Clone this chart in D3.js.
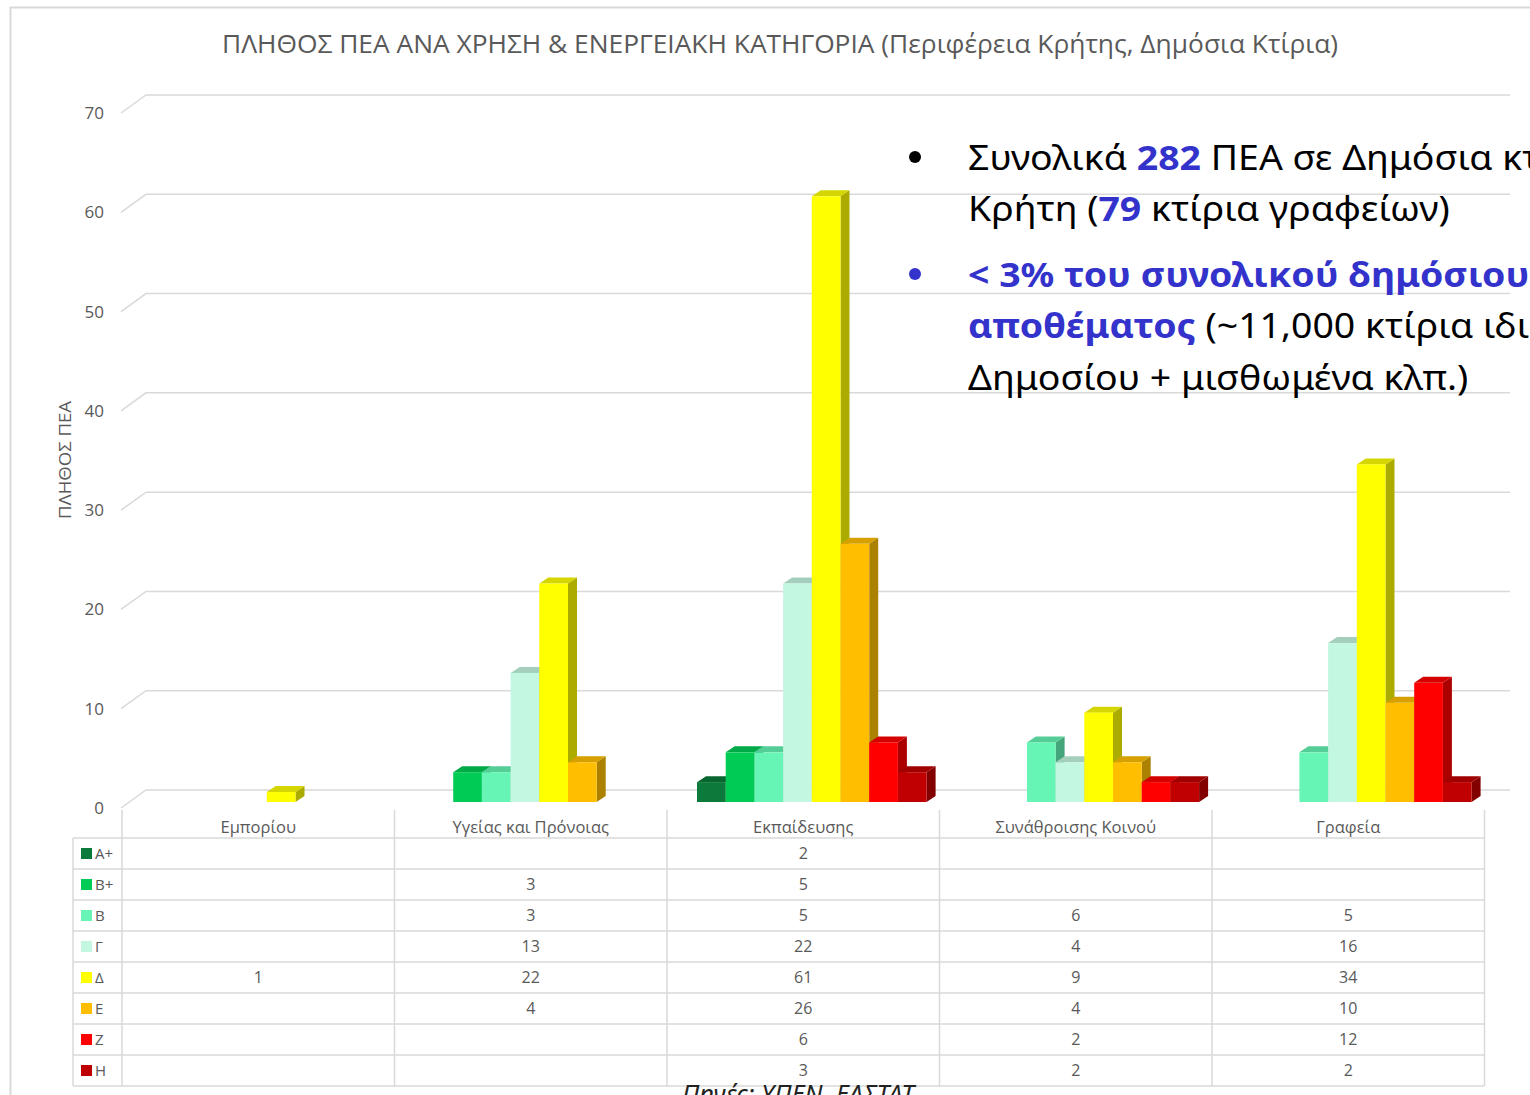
<!DOCTYPE html>
<html>
<head>
<meta charset="utf-8">
<script src="https://cdn.jsdelivr.net/npm/d3@7"></script>
<style>
  body { margin: 0; background: #fff; }
  svg { display: block; }
  .tick-label, .cat-label, .cell, .legend-label { fill: #595959; font-family: "Open Sans", "Noto Sans", sans-serif; }
</style>
</head>
<body>
<svg class="chart"></svg>
<script>
// categories (uses) and energy classes
var categories = ["Εμπορίου", "Υγείας και Πρόνοιας", "Εκπαίδευσης", "Συνάθροισης Κοινού", "Γραφεία"];
var classes = ["Α+", "Β+", "Β", "Γ", "Δ", "Ε", "Ζ", "Η"];
var classColors = ["#0b7a3b", "#00cc55", "#66f5b5", "#c4f7e2", "#ffff00", "#ffbf00", "#ff0000", "#c00000"];

// number of certificates per class, one value per category (null = none)
var valuesAplus = [null, null, 2, null, null];
var valuesBplus = [null, 3, 5, null, null];
var valuesB     = [null, 3, 5, 6, 5];
var valuesG     = [null, 13, 22, 4, 16];
var valuesD     = [1, 22, 61, 9, 34];
var valuesE     = [null, 4, 26, 4, 10];
var valuesZ     = [null, null, 6, 2, 12];
var valuesH     = [null, null, 3, 2, 2];
var seriesValues = [valuesAplus, valuesBplus, valuesB, valuesG, valuesD, valuesE, valuesZ, valuesH];

var yTicks = [0, 10, 20, 30, 40, 50, 60, 70];

var svgWidth = 1530, svgHeight = 1095;
var svg = d3.select(".chart")
    .attr("width", svgWidth)
    .attr("height", svgHeight);

// chart frame
svg.append("rect")
    .attr("x", 10.5).attr("y", 7.5)
    .attr("width", 1560).attr("height", 1120)
    .attr("fill", "none")
    .attr("stroke", "#d9d9d9")
    .attr("stroke-width", 2);

// title
svg.append("text")
    .attr("x", 222)
    .attr("y", 53)
    .attr("textLength", 1116)
    .attr("lengthAdjust", "spacingAndGlyphs")
    .attr("font-family", "'Open Sans', 'Noto Sans', sans-serif")
    .attr("font-size", "25px")
    .attr("fill", "#595959")
    .text("ΠΛΗΘΟΣ ΠΕΑ ΑΝΑ ΧΡΗΣΗ & ΕΝΕΡΓΕΙΑΚΗ ΚΑΤΗΓΟΡΙΑ (Περιφέρεια Κρήτης, Δημόσια Κτίρια)");

// scales
var x = d3.scaleBand()
    .domain(categories)
    .range([122, 1484.5]);

var xInner = d3.scaleBand()
    .domain(classes)
    .range([30, 30 + 8 * 28.7]);

var depthX = 25, depthY = 18;         // floor depth of the 3D box
var barDx = 9, barDy = 6;              // depth of a single column

var yBack = d3.scaleLinear().domain([0, 70]).range([790, 95]);
var yBar = d3.scaleLinear().domain([0, 70]).range([802, 802 - 70 * 9.93]);

// gridlines (diagonal on the side wall + back wall line)
svg.append("g").selectAll("path")
    .data(yTicks)
    .enter()
    .append("path")
    .attr("d", function(d) {
        return "M" + (146 - depthX) + "," + (yBack(d) + depthY) + "L146," + yBack(d) + "H1510";
    })
    .attr("fill", "none")
    .attr("stroke", "#d9d9d9")
    .attr("stroke-width", 1.5);

// y tick labels
svg.append("g").selectAll("text")
    .data(yTicks)
    .enter()
    .append("text")
    .attr("class", "tick-label")
    .attr("x", 104)
    .attr("y", function(d) { return yBack(d) + depthY; })
    .attr("dy", "0.35em")
    .attr("text-anchor", "end")
    .attr("font-size", "17px")
    .text(function(d) { return d; });

// y axis title
svg.append("text")
    .attr("transform", "translate(71,460) rotate(-90)")
    .attr("text-anchor", "middle")
    .attr("textLength", 118)
    .attr("lengthAdjust", "spacingAndGlyphs")
    .attr("font-family", "'Open Sans', 'Noto Sans', sans-serif")
    .attr("font-size", "17px")
    .attr("fill", "#595959")
    .text("ΠΛΗΘΟΣ ΠΕΑ");

// bars, drawn category by category, left to right
var bars = [];
categories.forEach(function(cat, ci) {
    classes.forEach(function(cls, si) {
        var v = seriesValues[si][ci];
        if (v) bars.push({cat: cat, cls: cls, value: v, color: classColors[si]});
    });
});

var barG = svg.append("g").selectAll("g")
    .data(bars)
    .enter()
    .append("g");

barG.each(function(d) {
    var g = d3.select(this);
    var x0 = x(d.cat) + xInner(d.cls);
    var w = xInner.bandwidth();
    var y0 = yBar(0), y1 = yBar(d.value);
    var c = d3.color(d.color);
    // side face
    g.append("path")
        .attr("d", "M" + (x0 + w) + "," + y0 + "L" + (x0 + w + barDx) + "," + (y0 - barDy) +
                   "L" + (x0 + w + barDx) + "," + (y1 - barDy) + "L" + (x0 + w) + "," + y1 + "Z")
        .attr("fill", c.darker(1.1));
    // top face
    g.append("path")
        .attr("d", "M" + x0 + "," + y1 + "L" + (x0 + barDx) + "," + (y1 - barDy) +
                   "L" + (x0 + w + barDx) + "," + (y1 - barDy) + "L" + (x0 + w) + "," + y1 + "Z")
        .attr("fill", c.darker(0.5));
    // front face
    g.append("rect")
        .attr("x", x0)
        .attr("y", y1)
        .attr("width", w)
        .attr("height", y0 - y1)
        .attr("fill", d.color);
});

// data table under the chart
var rowTop = 838, rowH = 31;
var table = svg.append("g");

// horizontal lines
table.selectAll("line.h")
    .data(d3.range(classes.length + 1))
    .enter()
    .append("line")
    .attr("class", "h")
    .attr("x1", 73).attr("x2", 1484.5)
    .attr("y1", function(i) { return rowTop + i * rowH; })
    .attr("y2", function(i) { return rowTop + i * rowH; })
    .attr("stroke", "#d9d9d9")
    .attr("stroke-width", 1.5);

// vertical lines
var colEdges = categories.map(function(c) { return x(c); }).concat([x.range()[1]]);
table.selectAll("line.v")
    .data(colEdges)
    .enter()
    .append("line")
    .attr("class", "v")
    .attr("x1", function(d) { return d; })
    .attr("x2", function(d) { return d; })
    .attr("y1", 810)
    .attr("y2", rowTop + classes.length * rowH)
    .attr("stroke", "#d9d9d9")
    .attr("stroke-width", 1.5);

table.append("line")
    .attr("x1", 73).attr("x2", 73)
    .attr("y1", rowTop).attr("y2", rowTop + classes.length * rowH)
    .attr("stroke", "#d9d9d9")
    .attr("stroke-width", 1.5);

// category labels
table.selectAll("text.cat-label")
    .data(categories)
    .enter()
    .append("text")
    .attr("class", "cat-label")
    .attr("x", function(d) { return x(d) + x.bandwidth() / 2; })
    .attr("y", 827)
    .attr("dy", "0.35em")
    .attr("text-anchor", "middle")
    .attr("font-size", "16.5px")
    .text(function(d) { return d; });

// legend keys
var legendRow = table.selectAll("g.legend")
    .data(classes)
    .enter()
    .append("g")
    .attr("class", "legend")
    .attr("transform", function(d, i) { return "translate(0," + (rowTop + i * rowH + rowH / 2) + ")"; });

legendRow.append("rect")
    .attr("x", 81).attr("y", -5.5)
    .attr("width", 11).attr("height", 11)
    .attr("fill", function(d, i) { return classColors[i]; });

legendRow.append("text")
    .attr("class", "legend-label")
    .attr("x", 95)
    .attr("dy", "0.35em")
    .attr("font-size", "15px")
    .text(function(d) { return d; });

// cell values
seriesValues.forEach(function(vals, si) {
    table.append("g").selectAll("text")
        .data(vals.map(function(v, ci) { return {v: v, cat: categories[ci]}; }).filter(function(d) { return d.v; }))
        .enter()
        .append("text")
        .attr("class", "cell")
        .attr("x", function(d) { return x(d.cat) + x.bandwidth() / 2; })
        .attr("y", rowTop + si * rowH + rowH / 2)
        .attr("dy", "0.35em")
        .attr("text-anchor", "middle")
        .attr("font-size", "16px")
        .text(function(d) { return d.v; });
});

// source note (cut by the bottom edge)
svg.append("text")
    .attr("x", 682)
    .attr("y", 1103)
    .attr("textLength", 232)
    .attr("lengthAdjust", "spacingAndGlyphs")
    .attr("font-family", "'Noto Sans', sans-serif")
    .attr("font-style", "italic")
    .attr("font-size", "26px")
    .attr("fill", "#222")
    .text("Πηγές: ΥΠΕΝ, ΕΛΣΤΑΤ");

// overlaid bullet notes
var blue = "#3333cc";
var notes = svg.append("g")
    .attr("font-family", "'Noto Sans', sans-serif")
    .attr("font-size", "34px");

var lines = [
    {y: 170, parts: [["Συνολικά ", "#000", 400], ["282", blue, 700], [" ΠΕΑ σε Δημόσια κτίρια στην", "#000", 400]]},
    {y: 221, parts: [["Κρήτη (", "#000", 400], ["79", blue, 700], [" κτίρια γραφείων)", "#000", 400]]},
    {y: 287, parts: [["< 3% του συνολικού δημόσιου κτιριακού", blue, 700]]},
    {y: 338, parts: [["αποθέματος", blue, 700], [" (~11,000 κτίρια ιδιοκτησίας", "#000", 400]]},
    {y: 390, parts: [["Δημοσίου + μισθωμένα κλπ.)", "#000", 400]]}
];

var textBlock = notes.append("g");
var lineNodes = lines.map(function(l) {
    var t = textBlock.append("text").attr("x", 0).attr("y", l.y);
    l.parts.forEach(function(p) {
        t.append("tspan").attr("fill", p[1]).attr("font-weight", p[2]).text(p[0]);
    });
    return t;
});
// squeeze horizontally so the line "Κρήτη (79 κτίρια γραφείων)" spans as in the slide
var ratio = 482 / lineNodes[1].node().getComputedTextLength();
textBlock.attr("transform", "translate(968,0) scale(" + ratio + ",1)");

// bullets
notes.append("circle").attr("cx", 915).attr("cy", 157).attr("r", 6).attr("fill", "#000");
notes.append("circle").attr("cx", 915).attr("cy", 274).attr("r", 6).attr("fill", blue);
</script>
</body>
</html>
